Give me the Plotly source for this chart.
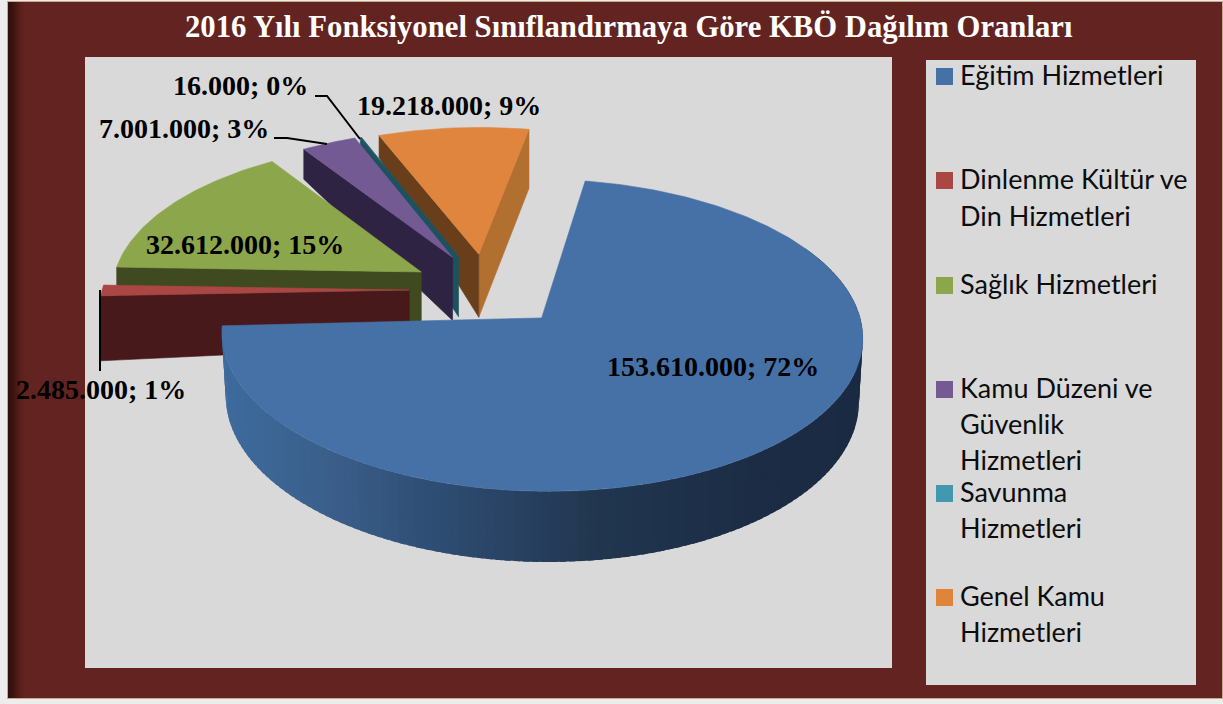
import math
import plotly.graph_objects as go

title = "2016 Yılı Fonksiyonel Sınıflandırmaya Göre KBÖ Dağılım Oranları"
categories = ["Eğitim Hizmetleri", "Dinlenme Kültür ve<br>Din Hizmetleri", "Sağlık Hizmetleri",
              "Kamu Düzeni ve<br>Güvenlik<br>Hizmetleri", "Savunma<br>Hizmetleri", "Genel Kamu<br>Hizmetleri"]
values = [153610000, 2485000, 32612000, 7001000, 16000, 19218000]
percents = [72, 1, 15, 3, 0, 9]
top_colors = ["#4671A7", "#AA4644", "#8BA64B", "#735A93", "#1C5666", "#DF853D"]
key_colors = ["#4671A7", "#AA4644", "#8BA64B", "#735A93", "#4198AF", "#DE853B"]

# --- projection of the tilted, exploded pie ---
CX, CY = 488, 290
PERSP = 0.109
FY = 148
START = 9.0
EXPLODE = 0.25
# per slice: fx, rotation, dx, dy, depth(apex), depth(first edge), depth(last edge), first-face, last-face colours
STYLE = [
    dict(fx=312, rot=0.8, dx=0, dy=0, da=62, d0=56, d1=56, c0=None, c1=None),
    dict(fx=307, rot=1.5, dx=-2, dy=-1, da=56, d0=65, d1=65, c0="#47191A", c1=None),
    dict(fx=310, rot=1.5, dx=1, dy=-1, da=56, d0=60, d1=30, c0="#3F4A20", c1=None),
    dict(fx=307, rot=1.5, dx=1, dy=-1, da=63, d0=30, d1=30, c0="#2F2344", c1=None),
    dict(fx=307, rot=1.5, dx=0, dy=0, da=60, d0=28, d1=28, c0="#1C5160", c1=None),
    dict(fx=307, rot=1.5, dx=0, dy=0, da=63, d0=22, d1=59, c0="#693E1B", c1="#B16F30"),
]

total = sum(values)
spans = [v / total * 360 for v in values]
starts = [START + sum(spans[:i]) for i in range(len(values))]


def project(i, r, t_deg, depth=0.0):
    s = STYLE[i]
    mid = math.radians(starts[i] + spans[i] / 2)
    X = EXPLODE * math.sin(mid)
    Y = -EXPLODE * math.cos(mid)
    if r:
        t = math.radians(t_deg + s["rot"])
        X += r * math.sin(t)
        Y += -r * math.cos(t)
    w = 1 - PERSP * Y
    return CX + s["dx"] + s["fx"] * X / w, CY + s["dy"] + FY * Y / w + depth


def lerp_color(x):
    stops = [(222, (61, 107, 157)), (333, (58, 95, 138)), (433, (47, 78, 117)),
             (533, (39, 64, 95)), (600, (33, 54, 79)), (760, (28, 44, 69)), (865, (26, 42, 66))]
    for (x0, c0), (x1, c1) in zip(stops, stops[1:]):
        if x <= x1:
            f = max(0, (x - x0) / (x1 - x0))
            return "rgb(%d,%d,%d)" % tuple(round(a + (b - a) * f) for a, b in zip(c0, c1))
    return "rgb(26,42,66)"


fig = go.Figure()


def poly(pts, color, width=0.6):
    fig.add_trace(go.Scatter(x=[p[0] for p in pts] + [pts[0][0]], y=[p[1] for p in pts] + [pts[0][1]],
                             mode="lines", fill="toself", fillcolor=color,
                             line=dict(color=color, width=width), hoverinfo="skip", showlegend=False))


def face(i, t, da, dr, color):
    a = project(i, 0, 0)
    o = project(i, 1, t)
    poly([a, o, (o[0], o[1] + dr), (a[0], a[1] + da)], color)


# back to front: Genel, Savunma, Kamu, Sağlık, Dinlenme, Eğitim
for i in [5, 4, 3, 2, 1]:
    s = STYLE[i]
    span = max(spans[i], 0.3)
    t0, t1 = starts[i], starts[i] + span
    if s["c1"]:
        face(i, t1, s["da"], s["d1"], s["c1"])
    if s["c0"]:
        face(i, t0, s["da"], s["d0"], s["c0"])
    n = max(3, int(span))
    arc = [project(i, 1, t0 + (t1 - t0) * k / n) for k in range(n + 1)]
    poly([project(i, 0, 0)] + arc, top_colors[i])

# Eğitim: outer wall strips, then the top
t0, t1 = starts[0], starts[0] + spans[0]
axis_x = project(0, 0, 0)[0]


def wall_pt(t):
    x, y = project(0, 1, t)
    w = 1 - PERSP * (y - CY) / FY / (1 + PERSP * (y - CY) / FY)
    return (axis_x + (x - axis_x) * 0.988, y + 61.5 / w)


step = 1.5
t = t1 - step
while t > 60:
    # each strip overlaps its neighbour, so no seams show
    t2 = min(t + step + 1.0, t1)
    a, b = project(0, 1, t), project(0, 1, t2)
    mid = project(0, 1, t + step / 2)
    poly([a, b, wall_pt(t2), wall_pt(t)], lerp_color(mid[0]), width=0)
    t -= step
n = 260
arc = [project(0, 1, t0 + (t1 - t0) * k / n) for k in range(n + 1)]
poly([project(0, 0, 0)] + arc, top_colors[0])

# leader lines
leaders_x = [[315, 327, 360], [274, 287, 327], [100, 100]]
leaders_y = [[96, 96, 139], [138, 138, 144], [290, 371]]
for lx, ly in zip(leaders_x, leaders_y):
    fig.add_trace(go.Scatter(x=lx, y=ly, mode="lines", line=dict(color="black", width=2),
                             hoverinfo="skip", showlegend=False))

# data labels
label_x = [713, 101, 245, 184, 240, 449]
label_y = [366, 389, 244, 128, 85, 105]
annotations = []
for v, p, lx, ly in zip(values, percents, label_x, label_y):
    annotations.append(dict(x=lx, y=ly, xref="x", yref="y", showarrow=False,
                            text="<b>" + f"{v:,}".replace(",", ".") + f"; {p}%</b>",
                            font=dict(family="Liberation Serif", size=28, color="black")))

annotations.append(dict(x=629, y=27, xref="x", yref="y", showarrow=False, text="<b>" + title + "</b>",
                        font=dict(family="Liberation Serif", size=30.7, color="white")))

# legend
legend_y = [74, 178, 283, 387, 491, 595]
line_gap = [0, 37, 0, 36, 36, 36]
key_y = [75, 179, 284, 388, 492, 596]
shapes = []
page = "#EDEDED"
maroon = "#632421"


def rect(x0, y0, x1, y1, color):
    shapes.append(dict(type="rect", xref="x", yref="y", x0=x0, y0=y0, x1=x1, y1=y1,
                       fillcolor=color, line=dict(width=0), layer="below"))


rect(7, 1, 1223, 699, "#C9A98C")
rect(8, 2, 1222, 698, maroon)
shadow = ["#2F100E", "#351210", "#3B1412", "#431714", "#4B1A17", "#531D1A", "#5A201C", "#5E221E"]
for k, c in enumerate(shadow):
    rect(8 + 2 * k, 2, 10 + 2 * k, 698, c)
rect(85, 57, 892, 668, "#D9D9D9")
rect(926, 60, 1196, 685, "#D9D9D9")

for name, c, ly, ky, gap in zip(categories, key_colors, legend_y, key_y, line_gap):
    shapes.append(dict(type="rect", xref="x", yref="y", x0=936, x1=953, y0=ky - 7, y1=ky + 10,
                       fillcolor=c, line=dict(width=0), layer="below"))
    for k, part in enumerate(name.split("<br>")):
        annotations.append(dict(x=957.5, y=ly + k * gap, xref="x", yref="y", xanchor="left", showarrow=False,
                                text=part, font=dict(family="Lato", size=27, color="#0D0D0D")))

fig.update_layout(
    width=1223, height=704, margin=dict(l=0, r=0, t=0, b=0), paper_bgcolor=page, plot_bgcolor=page,
    showlegend=False, shapes=shapes, annotations=annotations,
    xaxis=dict(range=[0, 1223], visible=False, fixedrange=True),
    yaxis=dict(range=[704, 0], visible=False, fixedrange=True),
)
fig.write_html("out.html", config={"displayModeBar": False},
               post_script="document.body.style.margin='0';document.body.style.overflow='hidden';")
